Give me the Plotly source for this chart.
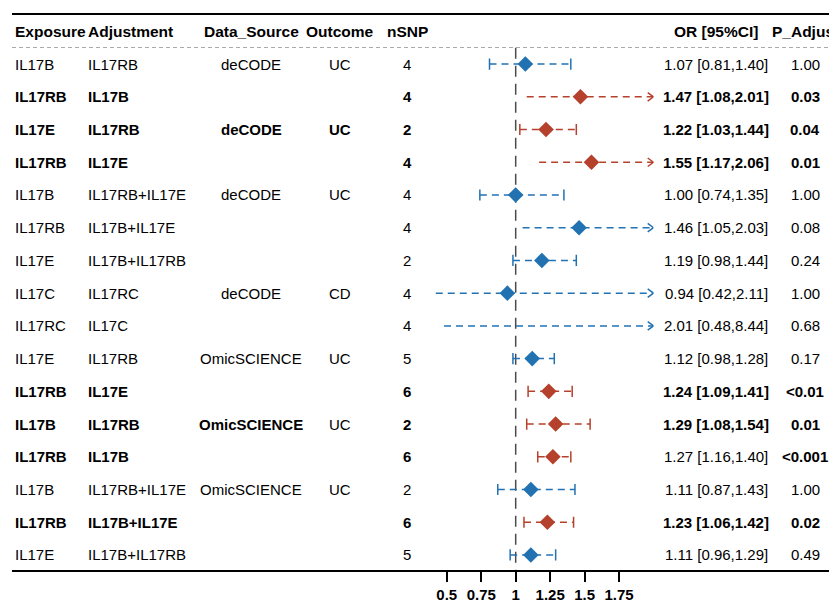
import plotly.graph_objects as go

# ---------------- data ----------------
exposure = ["IL17B", "IL17RB", "IL17E", "IL17RB", "IL17B", "IL17RB", "IL17E", "IL17C",
            "IL17RC", "IL17E", "IL17RB", "IL17B", "IL17RB", "IL17B", "IL17RB", "IL17E"]
adjustment = ["IL17RB", "IL17B", "IL17RB", "IL17E", "IL17RB+IL17E", "IL17B+IL17E", "IL17B+IL17RB",
              "IL17RC", "IL17C", "IL17RB", "IL17E", "IL17RB", "IL17B", "IL17RB+IL17E",
              "IL17B+IL17E", "IL17B+IL17RB"]
data_source = ["deCODE", "", "deCODE", "", "deCODE", "", "", "deCODE", "", "OmicSCIENCE", "",
               "OmicSCIENCE", "", "OmicSCIENCE", "", ""]
outcome = ["UC", "", "UC", "", "UC", "", "", "CD", "", "UC", "", "UC", "", "UC", "", ""]
nsnp = [4, 4, 2, 4, 4, 4, 2, 4, 4, 5, 6, 2, 6, 2, 6, 5]
odds_ratio = [1.07, 1.47, 1.22, 1.55, 1.00, 1.46, 1.19, 0.94, 2.01, 1.12, 1.24, 1.29, 1.27, 1.11, 1.23, 1.11]
ci_low = [0.81, 1.08, 1.03, 1.17, 0.74, 1.05, 0.98, 0.42, 0.48, 0.98, 1.09, 1.08, 1.16, 0.87, 1.06, 0.96]
ci_high = [1.40, 2.01, 1.44, 2.06, 1.35, 2.03, 1.44, 2.11, 8.44, 1.28, 1.41, 1.54, 1.40, 1.43, 1.42, 1.29]
p_adjust = ["1.00", "0.03", "0.04", "0.01", "1.00", "0.08", "0.24", "1.00", "0.68", "0.17",
            "<0.01", "0.01", "<0.001", "1.00", "0.02", "0.49"]
significant = [0, 1, 1, 1, 0, 0, 0, 0, 0, 0, 1, 1, 1, 0, 1, 0]
bold_source = [0, 0, 1, 0, 0, 0, 0, 0, 0, 0, 0, 1, 0, 0, 0, 0]
bold_outcome = [0, 0, 1, 0, 0, 0, 0, 0, 0, 0, 0, 0, 0, 0, 0, 0]
bold_or = [0, 1, 1, 1, 0, 0, 0, 0, 0, 0, 1, 1, 0, 0, 1, 0]
headers = ["Exposure", "Adjustment", "Data_Source", "Outcome", "nSNP", "OR [95%CI]", "P_Adjust"]
tick_vals = [0.5, 0.75, 1, 1.25, 1.5, 1.75]
tick_text = ["0.5", "0.75", "1", "1.25", "1.5", "1.75"]

# ---------------- style ----------------
W, H = 837, 600
OFF = 8  # page body margin offset
FONT = "Liberation Sans, Arial, sans-serif"
BLUE = "#2272B2"
RED = "#B5412C"
XMIN, XMAX = 0.4, 2.0
X_PX = (433.0 - OFF, 653.5 - OFF)
TOP_PX, BOT_PX = 14 - OFF, 571 - OFF
Y_RANGE = [16.49, -0.53]

n = len(exposure)
rows = list(range(1, n + 1))

fig = go.Figure()

# CI segments
for i in range(n):
    col = RED if significant[i] else BLUE
    lo = max(ci_low[i], XMIN)
    hi = min(ci_high[i], XMAX)
    fig.add_trace(go.Scatter(x=[lo, hi], y=[rows[i], rows[i]], mode="lines",
                             line=dict(color=col, width=1.5, dash="7px,5px"),
                             hoverinfo="skip", showlegend=False))

for color, flag in ((BLUE, 0), (RED, 1)):
    idx = [i for i in range(n) if significant[i] == flag]
    cx, cy = [], []
    ax_, ay_ = [], []
    for i in idx:
        clipped = ci_low[i] < XMIN or ci_high[i] > XMAX
        if not clipped:
            cx += [ci_low[i], ci_high[i]]
            cy += [rows[i], rows[i]]
        else:
            if ci_high[i] > XMAX:
                ax_ += [XMAX - 0.042, XMAX, XMAX - 0.042, None]
                ay_ += [rows[i] - 0.13, rows[i], rows[i] + 0.13, None]
            if ci_low[i] < XMIN:
                ax_ += [XMIN + 0.042, XMIN, XMIN + 0.042, None]
                ay_ += [rows[i] - 0.13, rows[i], rows[i] + 0.13, None]
    fig.add_trace(go.Scatter(x=cx, y=cy, mode="markers",
                             marker=dict(symbol="line-ns", size=8,
                                         line=dict(color=color, width=1.5)),
                             hoverinfo="skip", showlegend=False))
    if ax_:
        fig.add_trace(go.Scatter(x=ax_, y=ay_, mode="lines",
                                 line=dict(color=color, width=1.5),
                                 hoverinfo="skip", showlegend=False))
    px_, py_ = [], []
    for i in idx:
        if XMIN <= odds_ratio[i] <= XMAX:
            px_.append(odds_ratio[i])
            py_.append(rows[i])
    fig.add_trace(go.Scatter(x=px_, y=py_, mode="markers",
                             marker=dict(symbol="diamond", size=12, color=color,
                                         line=dict(color=color, width=0)),
                             hoverinfo="skip", showlegend=False))

# reference line at OR = 1
fig.add_shape(type="line", xref="x", yref="y", x0=1, x1=1, y0=0.5, y1=Y_RANGE[0],
              line=dict(color="#4a4a4a", width=1.5, dash="11px,7px"), layer="below")

def px_x(p):
    return (p - OFF) / W

def px_y(p):
    return 1 - (p - OFF) / H

# table lines (positions given in screenshot pixels)
fig.add_shape(type="line", xref="paper", yref="paper", x0=px_x(12), x1=1,
              y0=px_y(14), y1=px_y(14), line=dict(color="black", width=2))
fig.add_shape(type="line", xref="paper", yref="paper", x0=px_x(12), x1=1,
              y0=px_y(571), y1=px_y(571), line=dict(color="black", width=2))
fig.add_shape(type="line", xref="paper", yref="paper", x0=px_x(12), x1=1,
              y0=px_y(47.5), y1=px_y(47.5), line=dict(color="#aaaaaa", width=1, dash="4px,3px"))

# column layout: (screenshot pixel x, anchor)
cols = [(12.5, "left"), (86, "left"), (251, "center"), (340, "center"),
        (407, "center"), (716, "center"), (805, "center")]

def add_text(txt, col_i, row, bold, size=15):
    x, anchor = cols[col_i]
    fig.add_annotation(x=px_x(x), xref="paper", y=row, yref="y", text=txt,
                       xanchor=anchor, yanchor="middle", showarrow=False,
                       font=dict(family=FONT, size=size, color="black",
                                 weight="bold" if bold else "normal"))

for j, h in enumerate(headers):
    add_text(h, j, 0, True, size=15.5)

for i in range(n):
    r = rows[i]
    b = bool(significant[i])
    add_text(exposure[i], 0, r, b)
    add_text(adjustment[i], 1, r, b)
    if data_source[i]:
        add_text(data_source[i], 2, r, bool(bold_source[i]))
    if outcome[i]:
        add_text(outcome[i], 3, r, bool(bold_outcome[i]))
    add_text(str(nsnp[i]), 4, r, b)
    ci_txt = f"{odds_ratio[i]:.2f} [{ci_low[i]:.2f},{ci_high[i]:.2f}]"
    add_text(ci_txt, 5, r, bool(bold_or[i]))
    add_text(p_adjust[i], 6, r, b)

fig.update_layout(
    width=W, height=H,
    margin=dict(l=0, r=0, t=0, b=0),
    paper_bgcolor="white", plot_bgcolor="rgba(0,0,0,0)",
    showlegend=False,
    xaxis=dict(domain=[X_PX[0] / W, X_PX[1] / W], range=[XMIN, XMAX],
               showgrid=False, zeroline=False, showline=False,
               tickmode="array", tickvals=tick_vals, ticktext=tick_text,
               ticks="outside", ticklen=10, tickwidth=1.5, tickcolor="black",
               tickfont=dict(family=FONT, size=15, color="black", weight="bold"),
               ticklabelstandoff=0, fixedrange=True),
    yaxis=dict(domain=[1 - BOT_PX / H, 1 - TOP_PX / H], range=Y_RANGE,
               visible=False, fixedrange=True),
)

fig.write_html("out.html")
